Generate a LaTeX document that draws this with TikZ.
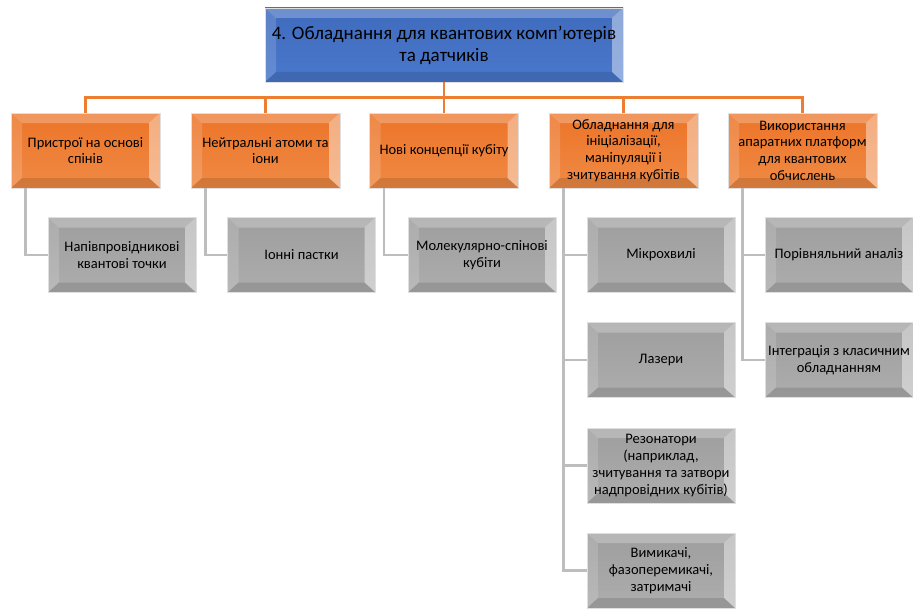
\documentclass[tikz,border=0pt]{standalone}
\usepackage{fontspec}
\setmainfont{Carlito}
\usetikzlibrary{calc}
\definecolor{oline}{HTML}{ED7D31}
\definecolor{gline}{HTML}{BDBDBD}
\definecolor{otop}{HTML}{EC7428}
\definecolor{obot}{HTML}{F08A45}
\definecolor{gtop}{HTML}{9E9E9E}
\definecolor{gbot}{HTML}{ADADAD}
\definecolor{btop}{HTML}{3F6BBD}
\definecolor{bbot}{HTML}{4A78CC}
\tikzset{
  bevel/.style={path picture={
    \path (path picture bounding box.north west) coordinate (bvnw)
          (path picture bounding box.north east) coordinate (bvne)
          (path picture bounding box.south west) coordinate (bvsw)
          (path picture bounding box.south east) coordinate (bvse);
    \fill[white,opacity=0.25] (bvnw) -- (bvne) -- ($(bvne)+(-11pt,-10pt)$) -- ($(bvnw)+(11pt,-10pt)$) -- cycle;
    \fill[white,opacity=0.15] (bvnw) -- ($(bvnw)+(11pt,-10pt)$) -- ($(bvsw)+(11pt,10pt)$) -- (bvsw) -- cycle;
    \fill[white,opacity=0.42] (bvne) -- ($(bvne)+(-11pt,-10pt)$) -- ($(bvse)+(-11pt,10pt)$) -- (bvse) -- cycle;
    \fill[black,opacity=0.12] (bvsw) -- ($(bvsw)+(11pt,10pt)$) -- ($(bvse)+(-11pt,10pt)$) -- (bvse) -- cycle;
  }},
  boxbase/.style={rectangle, inner sep=0pt, align=center, draw=white!75!gray, line width=0.8pt, bevel,
    font=\fontsize{14.5}{16.7}\selectfont, text=black},
  topbox/.style={boxbase, top color=btop, bottom color=bbot, minimum width=358pt, minimum height=74pt,
    font=\fontsize{19}{22}\selectfont},
  obox/.style={boxbase, top color=otop, bottom color=obot, minimum width=149pt, minimum height=75pt},
  gbox/.style={boxbase, top color=gtop, bottom color=gbot, minimum width=148pt, minimum height=75pt},
  olink/.style={draw=oline, line width=2.2pt},
  glink/.style={draw=gline, line width=2.4pt},
}
\begin{document}
\begin{tikzpicture}[x=1pt,y=1pt]
\useasboundingbox (0,0) rectangle (913,-610);
\node[topbox] (top) at (444,-45) {4. Обладнання для квантових комп’ютерів\\та датчиків};
\node[obox] (o1) at (85.5,-150.5) {Пристрої на основі\\спінів};
\node[obox] (o2) at (265.5,-150.5) {Нейтральні атоми та\\іони};
\node[obox] (o3) at (444,-150.5) {Нові концепції кубіту};
\node[obox] (o4) at (623.5,-150.5) {Обладнання для\\ініціалізації,\\маніпуляції і\\зчитування кубітів};
\node[obox] (o5) at (802.5,-150.5) {Використання\\апаратних платформ\\для квантових\\обчислень};
\foreach \n in {o1,o2,o3,o4,o5}{
  \draw[olink] (top.south) -- ($(top.south)+(0,-15)$) -| (\n.north);
}
\node[gbox] (g1) at (122,-255) {Напівпровідникові\\квантові точки};
\node[gbox] (g2) at (301.5,-255) {Іонні пастки};
\node[gbox] (g3) at (482,-255) {Молекулярно-спінові\\кубіти};
\node[gbox] (g41) at (661,-255) {Мікрохвилі};
\node[gbox] (g42) at (661,-360) {Лазери};
\node[gbox] (g43) at (661,-465.5) {Резонатори\\(наприклад,\\зчитування та затвори\\надпровідних кубітів)};
\node[gbox] (g44) at (661,-570.5) {Вимикачі,\\фазоперемикачі,\\затримачі};
\node[gbox] (g51) at (839,-255) {Порівняльний аналіз};
\node[gbox] (g52) at (839,-360) {Інтеграція з класичним\\обладнанням};
\draw[glink] ($(o1.south west)+(15,0)$) |- (g1.west);
\draw[glink] ($(o2.south west)+(15,0)$) |- (g2.west);
\draw[glink] ($(o3.south west)+(15,0)$) |- (g3.west);
\foreach \n in {g41,g42,g43,g44}{
  \draw[glink] ($(o4.south west)+(15,0)$) |- (\n.west);
}
\foreach \n in {g51,g52}{
  \draw[glink] ($(o5.south west)+(15,0)$) |- (\n.west);
}
\end{tikzpicture}
\end{document}
